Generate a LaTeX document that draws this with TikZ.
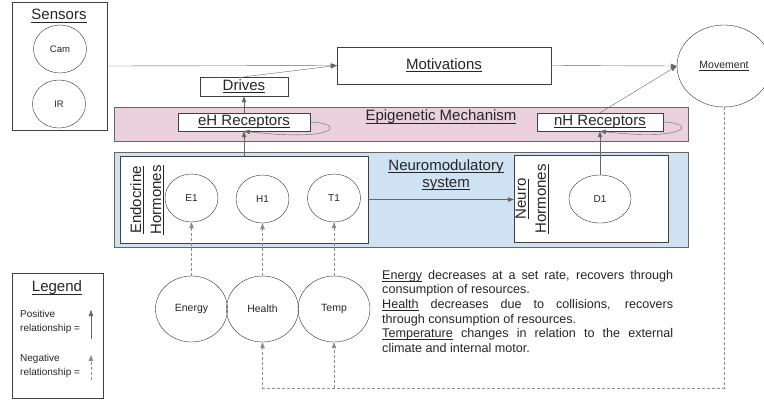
\documentclass[tikz,border=0pt]{standalone}
\usepackage{fontspec}
\setmainfont{Liberation Sans}
\usetikzlibrary{shapes.geometric,arrows.meta}
\definecolor{epipink}{HTML}{EAD1DC}
\definecolor{neuroblue}{HTML}{CFE2F3}
\definecolor{linegray}{HTML}{666666}
\newcommand\bigfs{\fontsize{15}{17}\selectfont}
\newcommand\rotfs{\fontsize{15}{20}\selectfont}
\newcommand\smallfs{\fontsize{10}{12}\selectfont}
\newcommand\uln[1]{\setbox0=\hbox{#1}\rlap{\vrule height -0.11em depth 0.17em width \wd0}\box0\relax}

\begin{document}
\begin{tikzpicture}[x=1pt,y=-1pt,text=black!85,
 box/.style={draw=black!75,fill=white,inner sep=0pt,font=\bigfs},
 band/.style={draw=black!60,inner sep=0pt},
 blob/.style={ellipse,draw=black!80,inner sep=0pt,minimum width=53pt,minimum height=48pt,font=\smallfs},
 posarr/.style={draw=linegray,-{Triangle[length=6pt,width=4.5pt]}},
 negarr/.style={posarr,draw=black!45,dash pattern=on 3pt off 2pt}]
 \useasboundingbox (0,0) rectangle (764,405);

 % sensors
 \node[box,minimum width=95pt,minimum height=128pt] (sensors) at (59.5,66) {};
 \node[font=\bigfs] (sensorstitle) at (59,16) {\uln{Sensors}};
 \node[blob,font=\fontsize{9.5}{11}\selectfont] (cam) at (60,49) {Cam};
 \node[blob,font=\fontsize{9.5}{11}\selectfont] (ir) at (59,104) {IR};

 \node[box,minimum width=214pt,minimum height=37pt] (motiv) at (444,65.5) {\uln{Motivations}};
 \node[box,minimum width=88pt,minimum height=19pt] (drives) at (244,86.5) {\uln{Drives}};

 % epigenetic band
 \node[band,fill=epipink,minimum width=574pt,minimum height=34pt] (epi) at (401,124) {};
 \node[font=\bigfs] (epititle) at (441,117) {\uln{Epigenetic Mechanism}};
 \node[box,minimum width=132pt,minimum height=18pt] (ehr) at (244,122) {\uln{eH Receptors}};
 \node[box,minimum width=126pt,minimum height=18pt] (nhr) at (600,122) {\uln{nH Receptors}};

 % neuromodulatory band
 \node[band,fill=neuroblue,minimum width=574pt,minimum height=95pt] (neuro) at (401,199.5) {};
 \node[font=\bigfs,align=center] (neurotitle) at (446,175) {\uln{Neuromodulatory}\\\uln{system}};
 \node[box,minimum width=248pt,minimum height=87pt] (endo) at (244,199.5) {};
 \node[rotate=90,align=center,font=\rotfs] (endotitle) at (147,200) {\uln{Endocrine}\\\uln{Hormones}};
 \node[blob] (e1) at (191.5,198) {E1};
 \node[blob] (h1) at (262.5,199) {H1};
 \node[blob] (t1) at (334,198) {T1};
 \node[box,minimum width=154pt,minimum height=87pt] (nh) at (591,198.5) {};
 \node[rotate=90,align=center,font=\rotfs] (nhtitle) at (532,199) {\uln{Neuro}\\\uln{Hormones}};
 \node[blob,minimum width=62pt] (d1) at (600,199) {D1};

 \node[blob,minimum width=94pt,minimum height=82pt,font=\fontsize{10.5}{12}\selectfont] (move) at (724,66) {\uln{Movement}};

 % internal states
 \node[blob,minimum width=72pt,minimum height=66pt,font=\fontsize{10.5}{12}\selectfont] (energy) at (191.5,309) {Energy};
 \node[blob,minimum width=72pt,minimum height=66pt,font=\fontsize{10.5}{12}\selectfont] (health) at (262.5,309) {Health};
 \node[blob,minimum width=72pt,minimum height=66pt,font=\fontsize{10.5}{12}\selectfont] (temp) at (334,309) {Temp};

 % legend
 \node[box,minimum width=91pt,minimum height=125pt] (legend) at (57.5,335.5) {};
 \node[font=\bigfs] (legendtitle) at (57,288) {\uln{Legend}};
 \node[anchor=west,align=left,inner sep=0pt,font=\fontsize{10}{13.5}\selectfont] (postxt) at (20,322) {Positive\\relationship =};
 \node[anchor=west,align=left,inner sep=0pt,font=\fontsize{10}{13.5}\selectfont] (negtxt) at (20,366) {Negative\\relationship =};
 \coordinate (posa) at (91,339);
 \coordinate (posb) at (91,310);
 \coordinate (nega) at (91,380);
 \coordinate (negb) at (91,355);
 \draw[posarr] (posa) -- (posb);
 \draw[negarr] (nega) -- (negb);

 \node[anchor=north west,inner sep=0pt,text width=291pt,align=justify,font=\fontsize{12.6}{14.6}\selectfont] (notes) at (382,270)
 {\uln{Energy} decreases at a set rate, recovers through\linebreak consumption of resources.\\
 \uln{Health} decreases due to collisions, recovers\linebreak through consumption of resources.\\
 \uln{Temperature} changes in relation to the external\linebreak climate and internal motor.};

 % connectors
 \draw[posarr] (sensors.east) -- (motiv.west);
 \draw[posarr] (drives.north) -- (motiv.west);
 \draw[posarr] (motiv.east) -- (move.west);
 \draw[posarr] (nhr.north) -- (move.west);
 \draw[posarr] (ehr.north) -- (drives.south);
 \draw[posarr] (endo.north) -- (ehr.south);
 \draw[posarr] (d1.north) -- (nhr.south);
 \draw[posarr] (endo.east) -- (endo.east -| nh.west);
 \draw[posarr] (ehr.east) .. controls +(35,1) and +(96,11) .. (ehr.south);
 \draw[posarr] (nhr.east) .. controls +(34,1) and +(88,10) .. (nhr.south);
 \draw[negarr] (energy.north) -- (e1.south);
 \draw[negarr] (health.north) -- (h1.south);
 \draw[negarr] (temp.north) -- (t1.south);
 \coordinate (fb) at (262.5,388);
 \draw[negarr] (move.south) |- (fb) -- (health.south);
 \draw[negarr] (fb -| temp.south) -- (temp.south);
\end{tikzpicture}
\end{document}
